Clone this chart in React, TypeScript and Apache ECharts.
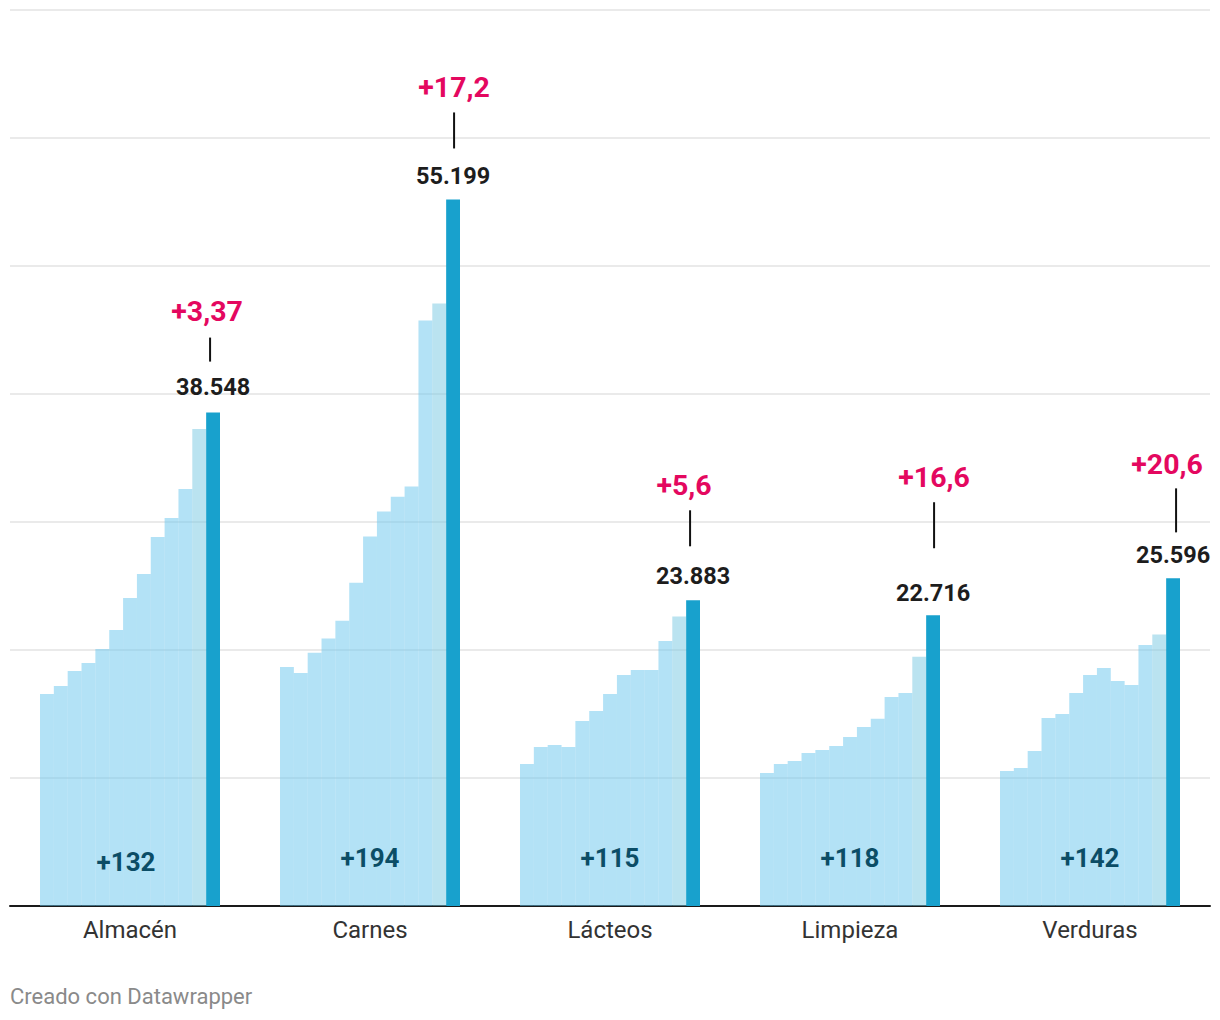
import React, { useEffect, useRef } from "react";
import * as echarts from "echarts";

// ---- DATA ----
const categories = ["Almacén", "Carnes", "Lácteos", "Limpieza", "Verduras"];

// 13 monthly values per category (last one = current, dark bar)
const almacen = [16560, 17190, 18360, 18980, 20080, 21560, 24060, 25940, 28830, 30310, 32580, 37270, 38548];
const carnes = [18670, 18200, 19780, 20890, 22290, 25250, 28870, 30830, 31970, 32780, 45750, 47080, 55199];
const lacteos = [11090, 12420, 12580, 12420, 14450, 15230, 16560, 18050, 18440, 18440, 20700, 22620, 23883];
const limpieza = [10390, 11090, 11330, 11950, 12190, 12500, 13200, 13980, 14630, 16330, 16640, 19480, 22716];
const verduras = [10550, 10780, 12110, 14690, 15000, 16640, 18050, 18590, 17580, 17270, 20390, 21220, 25596];

const monthly = [almacen, carnes, lacteos, limpieza, verduras];

const changeLabels = ["+3,37", "+17,2", "+5,6", "+16,6", "+20,6"];
const totalLabels = ["+132", "+194", "+115", "+118", "+142"];

const yMin = 0;
const yMax = 70000;
const yInterval = 10000;

// ---- STYLE / LAYOUT (not data) ----
const FONT = "Roboto";
const LIGHT = "rgba(103,197,237,0.5)";
const LIGHTER = "rgba(117,199,225,0.5)";
const DARK = "#18a1cd";
const PINK = "#e4085f";
const TEAL = "#0b4d66";

// distance: bar top -> value label; gapTop: pink -> line; line: line length; gapBottom: line -> value
// pShift / lShift: horizontal shifts of pink label / line (negative = left)
const annotationLayout = [
  { distance: 14, gapTop: 11, line: 24, gapBottom: 13, pShift: -6, lShift: -3 },
  { distance: 11, gapTop: 10, line: 36, gapBottom: 16, pShift: 1, lShift: 1 },
  { distance: 12, gapTop: 10, line: 36, gapBottom: 18, pShift: -9, lShift: -3 },
  { distance: 10, gapTop: 10, line: 46, gapBottom: 33, pShift: 1, lShift: 1 },
  { distance: 11, gapTop: 9, line: 44, gapBottom: 11, pShift: -6, lShift: 3 },
];
const totalLabelDistance = [31, 35, 35, 35, 35];
const totalLabelShift = [-4, 0, 0, 0, 0];

function fmtThousands(v: number): string {
  return String(v).replace(/\B(?=(\d{3})+(?!\d))/g, ".");
}

export default function App() {
  const ref = useRef<HTMLDivElement>(null);

  useEffect(() => {
    document.body.style.margin = "0";
    if (!ref.current) return;
    const chart = echarts.init(ref.current, undefined, { renderer: "svg" });

    const nMonths = monthly[0].length;

    const rich: Record<string, any> = {};
    annotationLayout.forEach((a, i) => {
      const ps = Math.abs(a.pShift) * 2;
      rich["p" + i] = {
        fontFamily: FONT,
        fontSize: 28.5,
        fontWeight: "bold",
        color: PINK,
        lineHeight: 30,
        align: "center",
        padding: a.pShift < 0 ? [0, ps, 0, 0] : [0, 0, 0, ps],
      };
      rich["g" + i] = { height: a.gapTop, lineHeight: a.gapTop, fontSize: 1, align: "center" };
      rich["l" + i] = {
        width: 2,
        height: a.line,
        lineHeight: a.line,
        fontSize: 1,
        backgroundColor: "#111111",
        align: "center",
      };
      rich["s" + i] = { width: Math.abs(a.lShift) * 2, height: 1, fontSize: 1, align: "center" };
      rich["h" + i] = { height: a.gapBottom, lineHeight: a.gapBottom, fontSize: 1, align: "center" };
      rich["v" + i] = {
        fontFamily: FONT,
        fontSize: 23.5,
        fontWeight: "bold",
        color: "#1d1d1d",
        lineHeight: 24,
        align: "center",
      };
    });

    const series: any[] = [];
    for (let m = 0; m < nMonths; m++) {
      const isLast = m === nMonths - 1;
      const isPrev = m === nMonths - 2;
      const isMid = m === Math.floor(nMonths / 2);
      const color = isLast ? DARK : isPrev ? LIGHTER : LIGHT;
      const data = monthly.map((arr, ci) => {
        if (isLast) {
          return { value: arr[m], label: { distance: annotationLayout[ci].distance } };
        }
        if (isMid) {
          const sh = totalLabelShift[ci];
          return {
            value: arr[m],
            label: {
              distance: totalLabelDistance[ci],
              padding: sh < 0 ? [0, -sh * 2, 0, 0] : [0, 0, 0, sh * 2],
            },
          };
        }
        return arr[m];
      });
      const s: any = {
        type: "bar",
        name: "m" + m,
        data,
        barGap: "0%",
        barCategoryGap: "25%",
        itemStyle: { color },
        emphasis: { disabled: true },
        silent: true,
      };
      if (isLast) {
        s.label = {
          show: true,
          position: "top",
          rich,
          formatter: (p: any) => {
            const i = p.dataIndex;
            const a = annotationLayout[i];
            let lineRow = `{l${i}|}`;
            if (a.lShift < 0) lineRow = `{l${i}|}{s${i}|}`;
            else if (a.lShift > 0) lineRow = `{s${i}|}{l${i}|}`;
            return `{p${i}|${changeLabels[i]}}\n{g${i}|}\n${lineRow}\n{h${i}|}\n{v${i}|${fmtThousands(
              monthly[i][nMonths - 1]
            )}}`;
          },
        };
        s.z = 3;
      }
      if (isMid) {
        s.label = {
          show: true,
          position: "insideBottom",
          fontFamily: FONT,
          fontSize: 26,
          fontWeight: "bold",
          color: TEAL,
          lineHeight: 26,
          formatter: (p: any) => totalLabels[p.dataIndex],
        };
      }
      series.push(s);
    }

    chart.setOption({
      animation: false,
      backgroundColor: "#ffffff",
      textStyle: { fontFamily: FONT },
      title: {
        text: "Creado con Datawrapper",
        left: 10,
        top: 985,
        padding: 0,
        textStyle: { fontFamily: FONT, fontSize: 22, fontWeight: "normal", color: "#8a8a8a" },
      },
      grid: { left: 10, right: 10, top: 10, height: 896, containLabel: false },
      xAxis: {
        type: "category",
        data: categories,
        axisLine: { show: true, lineStyle: { color: "#1a1a1a", width: 2 } },
        axisTick: { show: false },
        axisLabel: { fontFamily: FONT, fontSize: 24, color: "#333333", margin: 12 },
        splitLine: { show: false },
      },
      yAxis: {
        type: "value",
        min: yMin,
        max: yMax,
        interval: yInterval,
        axisLine: { show: false },
        axisTick: { show: false },
        axisLabel: { show: false },
        splitLine: { show: true, lineStyle: { color: "#e3e3e3", width: 1.5 } },
      },
      series,
    });

    return () => chart.dispose();
  }, []);

  return <div ref={ref} style={{ width: 1220, height: 1020 }} />;
}
